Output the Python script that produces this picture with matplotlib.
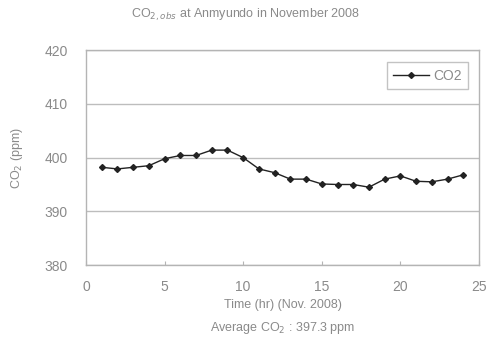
import matplotlib
matplotlib.use("Agg")
import matplotlib.pyplot as plt

plt.rcParams['font.family'] = ['Liberation Sans', 'DejaVu Sans']

# 시간별 평균 CO2 농도 (안면도, 2008년 11월)
hours = list(range(1, 25))
co2 = [398.2, 397.9, 398.2, 398.5, 399.8, 400.4, 400.4, 401.4, 401.4, 400.0,
       397.9, 397.2, 396.0, 396.0, 395.1, 395.0, 395.0, 394.5, 396.0, 396.6,
       395.6, 395.5, 396.0, 396.8]
avg_co2 = 397.3

x_ticks = [0, 5, 10, 15, 20, 25]
y_ticks = [380, 390, 400, 410, 420]

text_color = '#8a8a8a'
frame_color = '#b4b4b4'

fig = plt.figure(figsize=(4.9, 3.39), dpi=100)
ax = fig.add_axes([0.1755, 0.218, 0.802, 0.634])

ax.plot(hours, co2, color='#222222', lw=1.0, marker='D', ms=3,
        mfc='#222222', mec='#222222', label='CO2')

ax.set_xlim(0, 25)
ax.set_ylim(380, 420)
ax.set_xticks(x_ticks)
ax.set_yticks(y_ticks)
ax.grid(axis='y', color='#bdbdbd', lw=1.0)
ax.set_axisbelow(True)

for sp in ax.spines.values():
    sp.set_color(frame_color)
    sp.set_linewidth(1.0)

ax.tick_params(axis='x', direction='in', length=3, color=frame_color,
               labelcolor=text_color, labelsize=10, pad=11)
ax.tick_params(axis='y', length=0, labelcolor=text_color, labelsize=10, pad=13)

ax.set_ylabel('CO$_2$ (ppm)', color=text_color, fontsize=9, labelpad=14)
ax.set_xlabel('Time (hr) (Nov. 2008)\nAverage CO$_2$ : %.1f ppm' % avg_co2,
              color=text_color, fontsize=9, labelpad=3, linespacing=1.9)

fig.text(0.5, 0.957, 'CO$_{2,obs}$ at Anmyundo in November 2008',
         ha='center', va='center', color=text_color, fontsize=9)

leg = ax.legend(loc='upper right', fontsize=10, frameon=True, fancybox=False,
                borderpad=0.45, handlelength=2.6, handletextpad=0.3,
                bbox_to_anchor=(0.99, 0.975))
leg.get_frame().set_edgecolor(frame_color)
leg.get_frame().set_linewidth(1.0)
for t in leg.get_texts():
    t.set_color(text_color)

fig.savefig('out.png', dpi=100)
